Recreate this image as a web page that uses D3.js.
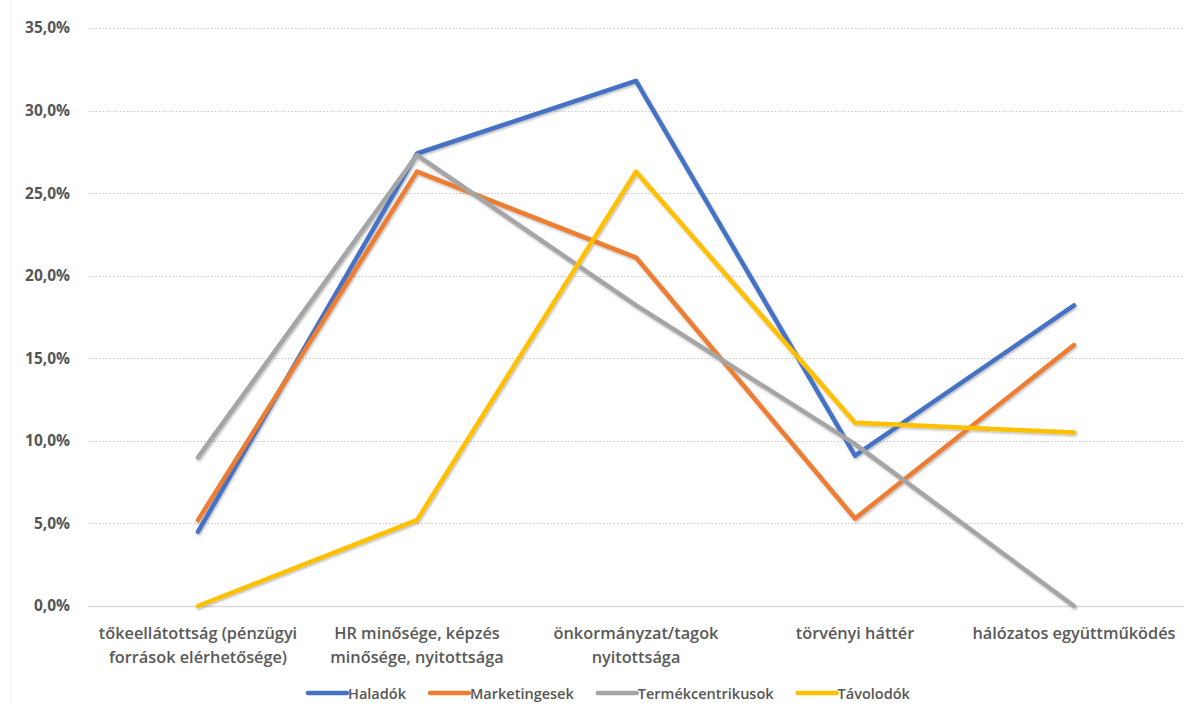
<!DOCTYPE html>
<html>
<head>
<meta charset="utf-8">
<script src="https://cdn.jsdelivr.net/npm/d3@7/dist/d3.min.js"></script>
<style>
  html, body { margin: 0; padding: 0; background: #fff; }
  svg { display: block; }
</style>
</head>
<body>
<svg id="chart" width="1185" height="704"></svg>
<script>
// Categories (two-line labels) and series values in percent
const categories = [
  ["tőkeellátottság (pénzügyi", "források elérhetősége)"],
  ["HR minősége, képzés", "minősége, nyitottsága"],
  ["önkormányzat/tagok", "nyitottsága"],
  ["törvényi háttér"],
  ["hálózatos együttműködés"]
];
const seriesNames = ["Haladók", "Marketingesek", "Termékcentrikusok", "Távolodók"];
const haladok          = [4.5, 27.4, 31.8, 9.1, 18.2];
const marketingesek    = [5.2, 26.3, 21.1, 5.3, 15.8];
const termekcentrikusok = [9.0, 27.3, 18.2, 9.8, 0.0];
const tavolodok        = [0.0, 5.2, 26.3, 11.1, 10.5];
const yTicks = [0, 5, 10, 15, 20, 25, 30, 35];
const colors = ["#4472C4", "#ED7D31", "#A5A5A5", "#FFC000"];

const seriesValues = [haladok, marketingesek, termekcentrikusok, tavolodok];

const svg = d3.select("#chart");
const W = 1185, H = 704;
const plot = { left: 88.5, right: 1183.5, top: 28, bottom: 606 };

const catKeys = categories.map((c, i) => i);
const x = d3.scalePoint().domain(catKeys).range([plot.left, plot.right]).padding(0.5);
const y = d3.scaleLinear().domain([0, 35]).range([plot.bottom, plot.top]);

// soft shadow under the lines
const defs = svg.append("defs");
const f = defs.append("filter").attr("id", "shadow")
  .attr("x", "-5%").attr("y", "-5%").attr("width", "110%").attr("height", "110%");
f.append("feDropShadow").attr("dx", 1).attr("dy", 1.5).attr("stdDeviation", 1.2)
  .attr("flood-color", "#000").attr("flood-opacity", 0.28);

// faint chart-area edge
svg.append("line").attr("x1", 10.5).attr("x2", 10.5).attr("y1", 0).attr("y2", H)
  .attr("stroke", "#f0f0f0").attr("stroke-width", 1);

// horizontal gridlines
svg.append("g").selectAll("line")
  .data(yTicks.filter(t => t > 0))
  .join("line")
  .attr("x1", plot.left).attr("x2", plot.right)
  .attr("y1", d => Math.round(y(d)) + 0.5).attr("y2", d => Math.round(y(d)) + 0.5)
  .attr("stroke", "#c8c8c8").attr("stroke-width", 1)
  .attr("stroke-dasharray", "1.5,2");

// y axis labels
const yAxis = d3.axisLeft(y).tickValues(yTicks)
  .tickFormat(d => d3.format(".1f")(d).replace(".", ",") + "%")
  .tickSize(0).tickPadding(0);
const yg = svg.append("g").attr("transform", "translate(70,0)").call(yAxis);
yg.select(".domain").remove();
yg.selectAll("text")
  .attr("fill", "#555555")
  .style("font-family", "'Open Sans', sans-serif")
  .style("font-size", "15.5px")
  .style("font-weight", "700");

// baseline
svg.append("line")
  .attr("x1", plot.left).attr("x2", plot.right)
  .attr("y1", y(0) + 0.5).attr("y2", y(0) + 0.5)
  .attr("stroke", "#d9d9d9").attr("stroke-width", 1.5);

// category labels
const xg = svg.append("g");
categories.forEach((lines, i) => {
  const t = xg.append("text")
    .attr("x", x(i)).attr("y", 639)
    .attr("text-anchor", "middle")
    .attr("fill", "#595959")
    .style("font-family", "'Open Sans', sans-serif")
    .style("font-size", "16.3px")
    .style("font-weight", "600");
  lines.forEach((ln, j) => {
    t.append("tspan").attr("x", x(i)).attr("dy", j === 0 ? 0 : 24).text(ln);
  });
});

// series lines
const line = d3.line().x((d, i) => x(i)).y(d => y(d));
svg.append("g").attr("filter", "url(#shadow)")
  .selectAll("path")
  .data(seriesValues)
  .join("path")
  .attr("d", d => line(d))
  .attr("fill", "none")
  .attr("stroke", (d, i) => colors[i])
  .attr("stroke-width", 4.5)
  .attr("stroke-linejoin", "round")
  .attr("stroke-linecap", "round");

// legend
const legend = svg.append("g").attr("transform", "translate(0,693)");
const swatch = 39, gapAfterSwatch = 1, gapBetween = 24;
let lx = 308;
seriesNames.forEach((name, i) => {
  legend.append("line")
    .attr("x1", lx).attr("x2", lx + swatch).attr("y1", 0).attr("y2", 0)
    .attr("stroke", colors[i]).attr("stroke-width", 4.5).attr("stroke-linecap", "round");
  const t = legend.append("text")
    .attr("x", lx + swatch + gapAfterSwatch).attr("y", 5.5)
    .attr("fill", "#555555")
    .style("font-family", "'Open Sans', sans-serif")
    .style("font-size", "14.5px")
    .style("font-weight", "600")
    .text(name);
  lx += swatch + gapAfterSwatch + t.node().getComputedTextLength() + gapBetween;
});
</script>
</body>
</html>
